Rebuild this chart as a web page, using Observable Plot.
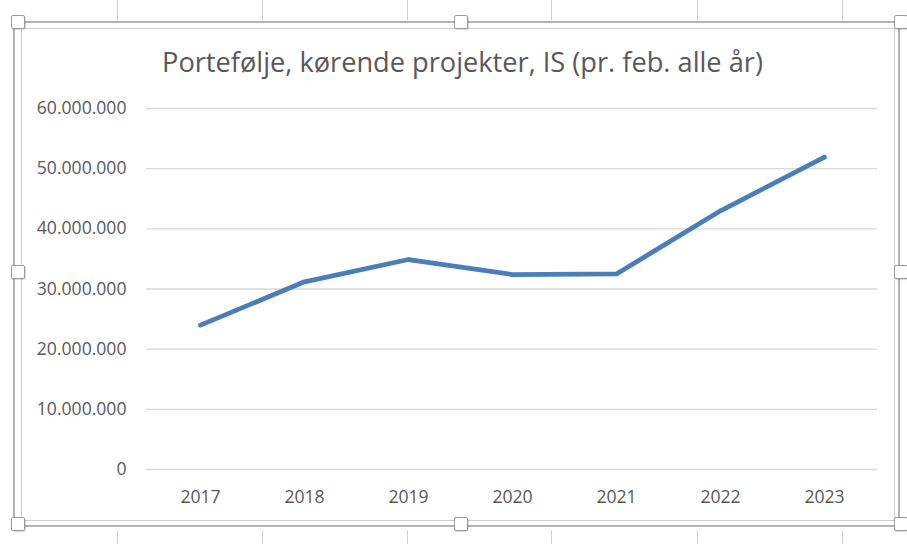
<!DOCTYPE html>
<html>
<head>
<meta charset="utf-8">
<script src="https://cdn.jsdelivr.net/npm/d3@7"></script>
<script src="https://cdn.jsdelivr.net/npm/@observablehq/plot@0.6"></script>
<style>
  html, body { margin: 0; padding: 0; background: #fff; }
  #page { position: relative; width: 907px; height: 544px; overflow: hidden; background: #fff; font-family: "Open Sans", sans-serif; }
  .vline { position: absolute; width: 1px; background: #d0d0d0; }
  .frame { position: absolute; box-sizing: border-box; }
  .handle { position: absolute; width: 14px; height: 14px; background: #fff; border: 1px solid #9a9a9a; border-radius: 2px; box-sizing: border-box; box-shadow: 1px 1px 1px rgba(0,0,0,0.15); }
  #title { position: absolute; left: 0; width: 925px; top: 43px; text-align: center; color: #595959; font-family: "Open Sans", sans-serif; font-size: 27.2px; line-height: normal; white-space: nowrap; }
  #chart { position: absolute; left: 0; top: 0; }
</style>
</head>
<body>
<div id="page">
  <div class="vline" style="left:117px;top:0;height:20px"></div>
  <div class="vline" style="left:262px;top:0;height:20px"></div>
  <div class="vline" style="left:407px;top:0;height:20px"></div>
  <div class="vline" style="left:551px;top:0;height:20px"></div>
  <div class="vline" style="left:697px;top:0;height:20px"></div>
  <div class="vline" style="left:842px;top:0;height:20px"></div>
  <div class="vline" style="left:117px;top:530px;height:14px"></div>
  <div class="vline" style="left:262px;top:530px;height:14px"></div>
  <div class="vline" style="left:407px;top:530px;height:14px"></div>
  <div class="vline" style="left:551px;top:530px;height:14px"></div>
  <div class="vline" style="left:697px;top:530px;height:14px"></div>
  <div class="vline" style="left:842px;top:530px;height:14px"></div>
  <div class="frame" style="left:13px;top:21px;width:887px;height:506px;border:2px solid #b4b4b4;"></div>
  <div class="frame" style="left:21px;top:28px;width:874px;height:493px;border:1px solid #cfcfcf;"></div>
  <div id="title">Portefølje, kørende projekter, IS (pr. feb. alle år)</div>
  <div id="chart"></div>
  <div class="handle" style="left:11px;top:15px"></div>
  <div class="handle" style="left:454px;top:15px"></div>
  <div class="handle" style="left:894px;top:15px"></div>
  <div class="handle" style="left:11px;top:265px"></div>
  <div class="handle" style="left:894px;top:265px"></div>
  <div class="handle" style="left:11px;top:517px"></div>
  <div class="handle" style="left:454px;top:517px"></div>
  <div class="handle" style="left:894px;top:517px"></div>
</div>
<script>
const years = ["2017", "2018", "2019", "2020", "2021", "2022", "2023"];
const values = [24000000, 31200000, 34900000, 32400000, 32500000, 43000000, 51900000];
const yTicks = [0, 10000000, 20000000, 30000000, 40000000, 50000000, 60000000];

const data = years.map((year, i) => ({year, value: values[i]}));
const fmt = d3.formatLocale({decimal: ",", thousands: ".", grouping: [3], currency: ["", ""]}).format(",d");

const chart = Plot.plot({
  width: 907,
  height: 544,
  marginLeft: 146,
  marginRight: 30,
  marginTop: 108,
  marginBottom: 75,
  style: {background: "transparent", fontFamily: "Open Sans, sans-serif", color: "#595959"},
  x: {type: "point", domain: years, padding: 0.5},
  y: {domain: [0, 60000000]},
  marks: [
    Plot.ruleY(yTicks, {stroke: "#d9d9d9", strokeWidth: 1.4}),
    Plot.axisY({ticks: yTicks, tickSize: 0, tickPadding: 20, tickFormat: fmt, fontSize: 17.6, fill: "#595959", label: null}),
    Plot.axisX({tickSize: 0, tickPadding: 21, fontSize: 17.6, fill: "#595959", label: null}),
    Plot.line(data, {x: "year", y: "value", stroke: "#4a7ebb", strokeWidth: 4.8, strokeLinecap: "round", strokeLinejoin: "round"})
  ]
});
document.getElementById("chart").appendChild(chart);
</script>
</body>
</html>
